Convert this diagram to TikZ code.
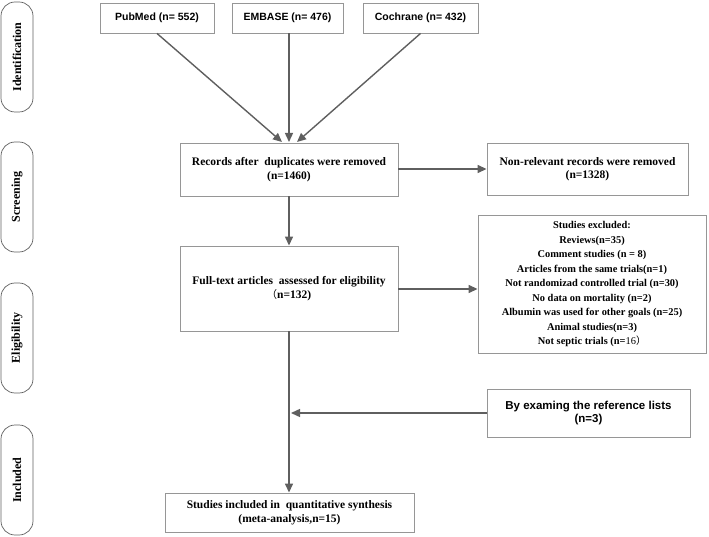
\documentclass[tikz,border=0pt]{standalone}
\usepackage{fontspec}
\setmainfont{Liberation Serif}
\newfontfamily\arialf{Liberation Sans}
\newfontfamily\cjk{Noto Sans CJK SC}
\usetikzlibrary{arrows.meta}
\definecolor{boxgray}{RGB}{150,150,150}
\definecolor{linegray}{RGB}{95,95,95}
\tikzset{
  box/.style={draw=boxgray, line width=0.9pt, rectangle, align=center, inner sep=2pt, font=\bfseries\fontsize{11.5}{13.5}\selectfont},
  sbox/.style={box, font=\arialf\bfseries\fontsize{10.5}{12.5}\selectfont},
  side/.style={draw=linegray, line width=0.7pt, rounded corners=14pt, minimum width=32pt, minimum height=110pt},
  sidetext/.style={rotate=90, font=\bfseries\fontsize{12}{13}\selectfont},
  conn/.style={draw=linegray, line width=1.4pt, -{Triangle[length=9pt,width=8pt]}},
  line/.style={draw=linegray, line width=1.4pt}
}
\begin{document}
\begin{tikzpicture}[x=1pt,y=-1pt]
\useasboundingbox (0,0) rectangle (709,537);
% side labels
\node[side] (s1) at (17,57) {};
\node[sidetext] at (s1) {Identification};
\node[side] (s2) at (17,197) {};
\node[sidetext] at (s2) {Screening};
\node[side] (s3) at (17,338) {};
\node[sidetext] at (s3) {Eligibility};
\node[side] (s4) at (17,480) {};
\node[sidetext] at (s4) {Included};
% source boxes
\node[sbox, minimum width=114pt, minimum height=30pt] (pub) at (157,18) {PubMed (n= 552)};
\node[sbox, minimum width=111pt, minimum height=30pt] (emb) at (287.5,18) {EMBASE (n= 476)};
\node[sbox, minimum width=115pt, minimum height=30pt] (coc) at (420.5,18) {Cochrane (n= 432)};
% main column
\node[box, minimum width=218pt, minimum height=53pt] (rec) at (289,169.5) {Records after\ \ duplicates were removed\\(n=1460)};
\node[box, minimum width=201pt, minimum height=52pt] (nonrel) at (587.5,169) {Non-relevant records were removed\\(n=1328)};
\node[box, minimum width=218pt, minimum height=85pt] (full) at (289,288.5) {Full-text articles\ \ assessed for eligibility\\{\cjk\fontsize{10.5}{13.5}\mdseries （}n=132)};
\node[box, minimum width=228pt, minimum height=138pt, font=\bfseries\fontsize{10.4}{14.5}\selectfont] (excl) at (592,284) {Studies excluded:\\Reviews(n=35)\\Comment studies (n = 8)\\Articles from the same trials(n=1)\\Not randomizad controlled trial (n=30)\\No data on mortality (n=2)\\Albumin was used for other goals (n=25)\\Animal studies(n=3)\\Not septic trials (n={\mdseries 16}{\cjk\fontsize{10}{14.5}\mdseries ）}};
\node[sbox, minimum width=203pt, minimum height=48pt, font=\arialf\bfseries\fontsize{11.5}{13.5}\selectfont] (ref) at (588.5,413) {By examing the reference lists\\(n=3)};
\node[box, minimum width=249pt, minimum height=39pt, font=\bfseries\fontsize{11.5}{13.5}\selectfont] (incl) at (289.5,512.5) {Studies included in\ \ quantitative synthesis\\(meta-analysis,n=15)};
% connectors
\coordinate (t1) at (282,142);
\coordinate (t2) at (289,142);
\coordinate (t3) at (297,142);
\draw[conn] (pub.south) -- (t1);
\draw[conn] (emb.south -| t2) -- (t2);
\draw[conn] (coc.south) -- (t3);
\draw[conn] (rec.east |- nonrel.west) -- (nonrel.west);
\draw[conn] (rec.south) -- (full.north);
\draw[conn] (full.east |- 0,289) -- (excl.west |- 0,289);
\draw[conn] (full.south) -- (incl.north -| full.south);
\coordinate (j) at (291,413);
\draw[conn] (ref.west) -- (j);
\end{tikzpicture}
\end{document}
